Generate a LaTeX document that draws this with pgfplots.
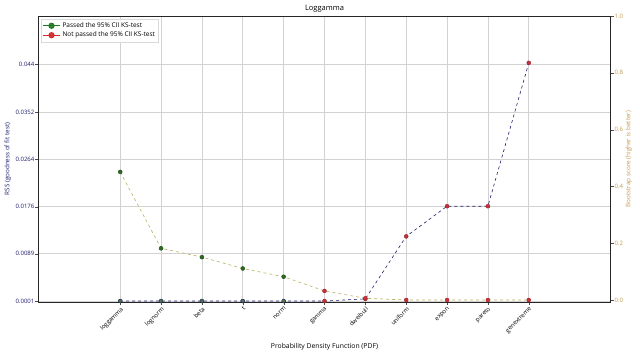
\documentclass[border=0pt]{standalone}
\usepackage{pgfplots}
\pgfplotsset{compat=1.18}
\usepackage{fontspec}
\setmainfont{Open Sans}
\definecolor{rssnavy}{HTML}{1C1C6E}
\definecolor{bootgold}{HTML}{C09A50}
\definecolor{bootline}{HTML}{B8B060}
\definecolor{passgreen}{HTML}{2E6B22}
\definecolor{failred}{HTML}{C8303A}
\definecolor{leggreen}{HTML}{1E7A1E}
\definecolor{legred}{HTML}{D42A2A}

\pgfplotstableread{
x rss boot
0 0.0001 0.451
1 0.0001 0.182
2 0.0001 0.151
3 0.0001 0.111
4 0.0001 0.082
5 0.0001 0.032
6 0.0005 0.006
7 0.0121 0.000
8 0.0177 0.000
9 0.0177 0.000
10 0.0443 0.000
}\datatab
\pgfplotstableread{
x rss boot
0 0.0001 0.451
1 0.0001 0.182
2 0.0001 0.151
3 0.0001 0.111
4 0.0001 0.082
}\passtab
\pgfplotstableread{
x rss boot
5 0.0001 0.032
6 0.0005 0.006
7 0.0121 0.000
8 0.0177 0.000
9 0.0177 0.000
10 0.0443 0.000
}\failtab

\begin{document}
\begin{tikzpicture}
\begin{axis}[
  scale only axis, width=572pt, height=286pt,
  xmin=-2, xmax=12,
  ymin=-0.00008, ymax=0.053,
  scaled y ticks=false,
  xtick={0,...,10},
  xticklabels={loggamma,lognorm,beta,t,norm,gamma,dweibull,uniform,expon,pareto,genextreme},
  xticklabel style={rotate=45, anchor=north east, font=\fontsize{6}{7}\selectfont, inner sep=1pt},
  ytick={0.0001,0.0089,0.0176,0.0264,0.0352,0.044},
  yticklabels={0.0001,0.0089,0.0176,0.0264,0.0352,0.044},
  yticklabel style={font=\fontsize{6}{7}\selectfont, text=rssnavy, inner sep=1pt},
  xtick pos=bottom, ytick pos=left, tick align=outside,
  major tick length=3pt,
  grid=major, grid style={gray!35, line width=0.6pt},
  axis line style={black!85, line width=0.8pt},
  tick style={black!70},
  title={Loggamma},
  title style={at={(axis description cs:0.5,1.027)}, anchor=center, yshift=-6pt, font=\fontsize{7.5}{8.5}\selectfont},
  xlabel={Probability Density Function (PDF)},
  xlabel style={at={(axis description cs:0.5,-0.157)}, anchor=center, font=\fontsize{6.8}{7.5}\selectfont},
  ylabel={RSS (goodness of fit test)},
  ylabel style={at={(axis description cs:-0.054,0.5)}, anchor=center, font=\fontsize{6.3}{7}\selectfont, text=rssnavy},
  legend style={at={(axis description cs:0.004,0.99)}, anchor=north west, font=\fontsize{6.5}{7.5}\selectfont, draw=gray!30, fill=white, fill opacity=0.9, text opacity=1, row sep=-1pt, inner sep=1.5pt},
  legend cell align=left,
]
\addlegendimage{leggreen, line width=1pt, mark=*, mark size=2.6pt}
\addlegendentry{Passed the 95\% CII KS-test}
\addlegendimage{legred, line width=1pt, mark=*, mark size=2.6pt}
\addlegendentry{Not passed the 95\% CII KS-test}
\addplot[rssnavy, dashed, line width=0.6pt, forget plot] table[x=x, y=rss] {\datatab};
\addplot[only marks, mark=*, mark size=2pt, draw=rssnavy!70!black, fill=passgreen!60!gray, forget plot] table[x=x, y=rss] {\passtab};
\addplot[only marks, mark=*, mark size=2pt, draw=failred!70!black, fill=failred, forget plot] table[x=x, y=rss] {\failtab};
\end{axis}
\begin{axis}[
  scale only axis, width=572pt, height=286pt,
  xmin=-2, xmax=12,
  ymin=-0.007, ymax=1.0,
  axis x line=none,
  axis y line*=right,
  axis line style={black!85, line width=0.8pt},
  ytick={0,0.2,0.4,0.6,0.8,1.0},
  yticklabels={0.0,0.2,0.4,0.6,0.8,1.0},
  yticklabel style={font=\fontsize{6}{7}\selectfont, text=bootgold, inner sep=1pt},
  tick align=outside, major tick length=3pt, tick style={black!70},
  ylabel={Bootstrap score (higher is better)},
  ylabel style={at={(axis description cs:1.032,0.5)}, anchor=center, font=\fontsize{6.3}{7}\selectfont, text=bootgold},
]
\addplot[bootline, dashed, line width=0.6pt] table[x=x, y=boot] {\datatab};
\addplot[only marks, mark=*, mark size=2pt, draw=passgreen!70!black, fill=passgreen] table[x=x, y=boot] {\passtab};
\addplot[only marks, mark=*, mark size=2pt, draw=failred!80!black, fill=failred] table[x=x, y=boot] {\failtab};
\end{axis}
\pgfresetboundingbox
\path[use as bounding box] (-38.5pt,-54pt) rectangle (601.5pt,302pt);
\end{tikzpicture}
\end{document}
